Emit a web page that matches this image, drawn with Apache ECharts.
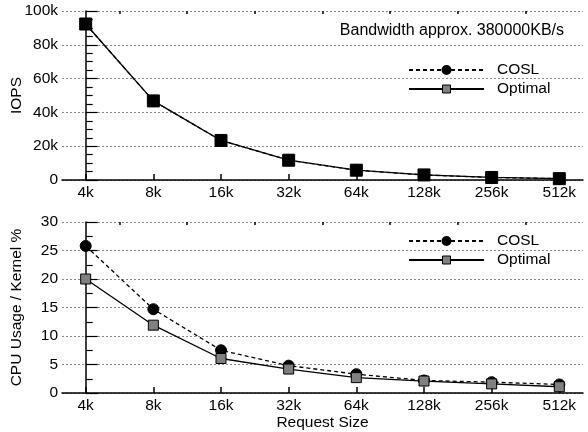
<!DOCTYPE html>
<html>
<head>
<meta charset="utf-8">
<script src="https://cdn.jsdelivr.net/npm/echarts@6/dist/echarts.min.js"></script>
<style>
  html, body {margin:0; padding:0; background:#fff;}
  #main {width:588px; height:432px;}
</style>
</head>
<body>
<div id="main"></div>
<script>
// request sizes on the x axis
const sizes = ['4k', '8k', '16k', '32k', '64k', '128k', '256k', '512k'];
// IOPS (top panel)
const ioCOSL = [92300, 46800, 23400, 11700, 5800, 3000, 1500, 800];
const ioOptimal = [92300, 46800, 23400, 11700, 5800, 3000, 1500, 800];
// CPU usage / kernel % (bottom panel)
const cpuCOSL = [25.8, 14.7, 7.5, 4.8, 3.3, 2.2, 1.9, 1.5];
const cpuOptimal = [20.0, 11.9, 6.05, 4.2, 2.7, 2.1, 1.6, 1.1];

const FONT = 'Liberation Sans';
const FS = 15.5;
const idx = sizes.map((s, i) => i);
const halves = sizes.slice(1).map((s, i) => i + 0.5);
const pairs = arr => arr.map((v, i) => [i, v]);

const chart = echarts.init(document.getElementById('main'));

function xAxes(grid, withName) {
    return [
        {
            type: 'value', gridIndex: grid, min: -0.35, max: 7.35,
            axisLine: {lineStyle: {color: '#000', width: 1.5}},
            axisTick: {inside: true, length: 6, customValues: idx, lineStyle: {color: '#000', width: 1.5}},
            axisLabel: {customValues: idx, color: '#000', fontFamily: FONT, fontSize: FS, margin: 5,
                formatter: v => sizes[Math.round(v)]},
            splitLine: {show: false},
            name: withName ? 'Request Size' : '',
            nameLocation: 'middle', nameGap: 21,
            nameTextStyle: {color: '#000', fontFamily: FONT, fontSize: FS}
        },
        {
            type: 'value', gridIndex: grid, min: -0.35, max: 7.35,
            axisLine: {show: false},
            axisTick: {inside: true, length: 3, customValues: halves, lineStyle: {color: '#000', width: 1.5}},
            axisLabel: {show: false},
            splitLine: {show: false}
        }
    ];
}

function yAxis(grid, name, max, interval, minorSplit, fmt, gap) {
    return {
        type: 'value', gridIndex: grid, min: 0, max: max, interval: interval,
        name: name, nameLocation: 'middle', nameGap: gap, nameMoveOverlap: false,
        nameTextStyle: {color: '#000', fontFamily: FONT, fontSize: FS},
        axisLine: {show: true, lineStyle: {color: '#000', width: 1.5}},
        axisTick: {show: true, inside: true, length: 12, lineStyle: {color: '#000', width: 1.2}},
        minorTick: {show: true, splitNumber: minorSplit, length: 7, lineStyle: {color: '#000', width: 1.2}},
        axisLabel: {color: '#000', fontFamily: FONT, fontSize: FS, margin: 4, formatter: fmt},
        splitLine: {show: true, lineStyle: {color: '#888', type: [2, 2], width: 1}},
        minorSplitLine: {show: false}
    };
}

const legendData = [
    {name: 'COSL'},
    {name: 'Optimal', itemStyle: {color: '#808080', borderColor: '#000', borderWidth: 1}}
];
function legend(top) {
    return {
        orient: 'vertical', left: 403, top: top, itemWidth: 75, itemHeight: 10, itemGap: 3,
        selectedMode: false, data: legendData,
        textStyle: {color: '#000', fontFamily: FONT, fontSize: FS, padding: [0, 0, 0, 8]}
    };
}

function series(name, data, xi, yi, dashed, symbol, fill, size) {
    return {
        name: name, type: 'line', xAxisIndex: xi, yAxisIndex: yi,
        data: pairs(data), symbol: symbol, symbolSize: size,
        lineStyle: {color: '#000', width: 1.3, type: dashed ? [4, 3] : 'solid'},
        itemStyle: {color: fill, borderColor: '#000', borderWidth: 1},
        animation: false
    };
}

chart.setOption({
    animation: false,
    backgroundColor: '#fff',
    grid: [
        {left: 62, right: 5, top: 11, height: 169, containLabel: false, outerBoundsMode: 'none'},
        {left: 62, right: 5, top: 222, height: 171, containLabel: false, outerBoundsMode: 'none'}
    ],
    title: {
        text: 'Bandwidth approx. 380000KB/s', right: 19, top: 18,
        textStyle: {color: '#000', fontFamily: FONT, fontSize: 16, fontWeight: 'normal'}
    },
    legend: [legend(57), legend(228)],
    xAxis: xAxes(0, false).concat(xAxes(1, true)),
    yAxis: [
        yAxis(0, 'IOPS', 100000, 20000, 4, v => v === 0 ? '0' : (v / 1000) + 'k', 37),
        yAxis(1, 'CPU Usage / Kernel %', 30, 5, 2, v => v, 37)
    ],
    series: [
        series('COSL', ioCOSL, 0, 0, true, 'circle', '#000', 11),
        series('Optimal', ioOptimal, 0, 0, false, 'rect', '#000', 12),
        series('COSL', cpuCOSL, 2, 1, true, 'circle', '#000', 11),
        series('Optimal', cpuOptimal, 2, 1, false, 'rect', '#808080', 10)
    ]
});
</script>
</body>
</html>
